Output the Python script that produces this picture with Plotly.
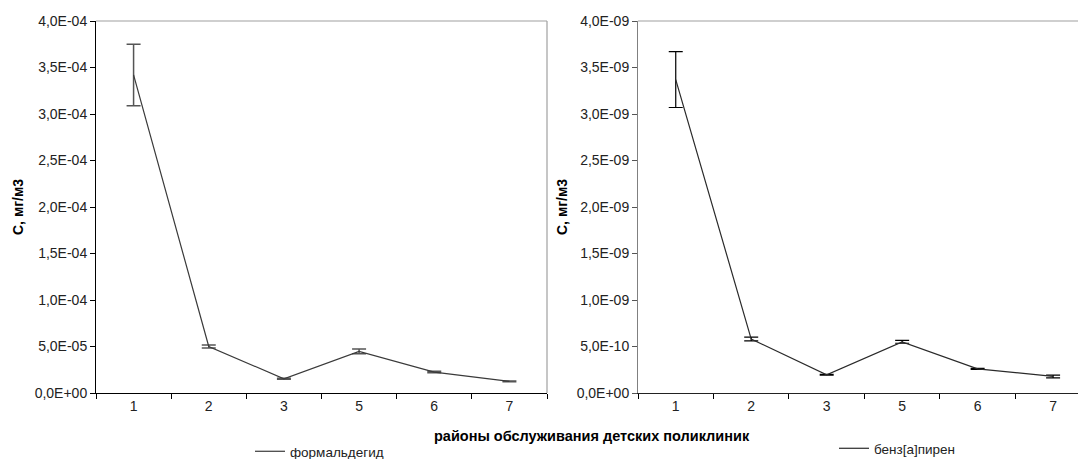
import plotly.graph_objects as go

categories = ["1", "2", "3", "5", "6", "7"]

formaldehyde = [3.42e-04, 5.0e-05, 1.53e-05, 4.48e-05, 2.25e-05, 1.25e-05]
formaldehyde_err = [3.3e-05, 1.5e-06, 6e-07, 2.5e-06, 8e-07, 4e-07]

benzapyrene = [3.37e-09, 5.8e-10, 1.96e-10, 5.5e-10, 2.6e-10, 1.78e-10]
benzapyrene_err = [3.0e-10, 2.0e-11, 5e-12, 1.5e-11, 5e-12, 1.5e-11]

left_tickvals = [0, 5e-05, 1e-04, 1.5e-04, 2e-04, 2.5e-04, 3e-04, 3.5e-04, 4e-04]
left_ticktext = ["0,0E+00", "5,0E-05", "1,0E-04", "1,5E-04", "2,0E-04",
                 "2,5E-04", "3,0E-04", "3,5E-04", "4,0E-04"]
right_tickvals = [0, 5e-10, 1e-09, 1.5e-09, 2e-09, 2.5e-09, 3e-09, 3.5e-09, 4e-09]
right_ticktext = ["0,0E+00", "5,0E-10", "1,0E-09", "1,5E-09", "2,0E-09",
                  "2,5E-09", "3,0E-09", "3,5E-09", "4,0E-09"]

W, H = 1078, 459
TOP, BOT = 21, 393
PH = BOT - TOP
FONT = "Liberation Sans, Arial, sans-serif"
TXT = "#222222"


def py(pix):
    return (BOT - pix) / PH


fig = go.Figure()
fig.add_trace(go.Scatter(
    x=categories, y=formaldehyde, mode="lines", name="формальдегид",
    line=dict(color="#3a3a3a", width=1.2), showlegend=True,
    error_y=dict(type="data", array=formaldehyde_err, color="#555555", thickness=1.5, width=7),
    xaxis="x", yaxis="y", legend="legend",
))
fig.add_trace(go.Scatter(
    x=categories, y=benzapyrene, mode="lines", name="бенз[а]пирен",
    line=dict(color="#2a2a2a", width=1.2), showlegend=True,
    error_y=dict(type="data", array=benzapyrene_err, color="#000000", thickness=1.2, width=7),
    xaxis="x2", yaxis="y2", legend="legend2",
))

common_x = dict(type="category", tickson="boundaries", ticks="outside", ticklen=5,
                tickcolor="#000", showgrid=False, zeroline=False, showline=True,
                tickfont=dict(family=FONT, size=14, color=TXT))
common_y = dict(ticks="outside", ticklen=5, showgrid=False, zeroline=False, showline=True,
                tickfont=dict(family=FONT, size=14, color=TXT))

fig.update_layout(
    width=W, height=H, showlegend=True,
    margin=dict(l=0, r=0, t=TOP, b=H - BOT, autoexpand=False),
    paper_bgcolor="white", plot_bgcolor="white",
    xaxis=dict(domain=[96 / W, 547 / W], range=[-0.5, 5.5], linecolor="#000", anchor="y", **common_x),
    yaxis=dict(domain=[0, 1], range=[0, 4e-04], tickvals=left_tickvals, ticktext=left_ticktext,
               linecolor="#000", tickcolor="#000", anchor="x", **common_y),
    xaxis2=dict(domain=[638 / W, 1.0], range=[-0.5, 5.33], linecolor="#222", anchor="y2", **common_x),
    yaxis2=dict(domain=[0, 1], range=[0, 4e-09], tickvals=right_tickvals, ticktext=right_ticktext,
                linecolor="#808080", tickcolor="#555", anchor="x2", **common_y),
    legend=dict(x=250 / W, y=py(436), xanchor="left", yanchor="top", bgcolor="rgba(0,0,0,0)",
                font=dict(family=FONT, size=13.5, color=TXT)),
    legend2=dict(x=834 / W, y=py(433), xanchor="left", yanchor="top", bgcolor="rgba(0,0,0,0)",
                 font=dict(family=FONT, size=13.5, color=TXT)),
    shapes=[
        dict(type="line", xref="x domain", yref="y domain", x0=0, x1=1, y0=1, y1=1,
             line=dict(color="#a0a0a0", width=1.2)),
        dict(type="line", xref="x domain", yref="y domain", x0=1, x1=1, y0=0, y1=1,
             line=dict(color="#a0a0a0", width=1.2)),
        dict(type="line", xref="x2 domain", yref="y2 domain", x0=0, x1=1, y0=1, y1=1,
             line=dict(color="#a0a0a0", width=1.2)),
    ],
    annotations=[
        dict(text="<b>С, мг/м3</b>", x=18 / W, y=0.5, xref="paper", yref="paper",
             textangle=-90, showarrow=False, font=dict(family=FONT, size=14, color="#000"),
             xanchor="center", yanchor="middle"),
        dict(text="<b>С, мг/м3</b>", x=562 / W, y=0.5, xref="paper", yref="paper",
             textangle=-90, showarrow=False, font=dict(family=FONT, size=14, color="#000"),
             xanchor="center", yanchor="middle"),
        dict(text="<b>районы обслуживания детских поликлиник</b>", x=592 / W, y=py(436),
             xref="paper", yref="paper", showarrow=False,
             font=dict(family=FONT, size=14.5, color="#000"), xanchor="center", yanchor="middle"),
    ],
)

fig.write_html("out.html")
